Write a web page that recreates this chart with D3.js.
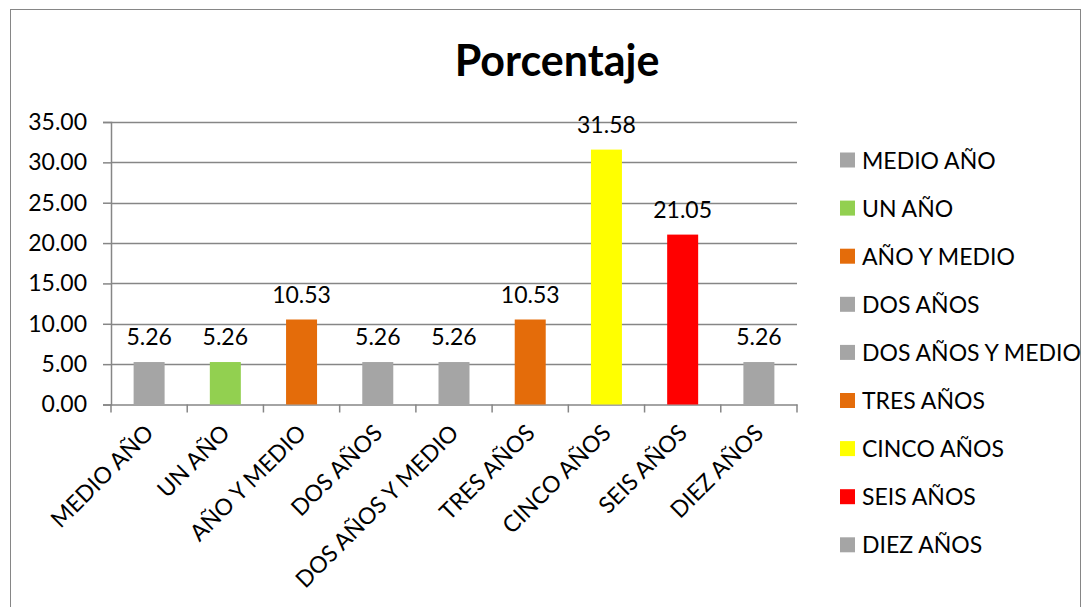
<!DOCTYPE html>
<html>
<head>
<meta charset="utf-8">
<script src="https://cdn.jsdelivr.net/npm/d3@7"></script>
<style>
  html, body { margin: 0; padding: 0; background: #fff; }
  svg { display: block; }
  text { font-family: Lato, "Open Sans", "Liberation Sans", sans-serif; fill: #000; }
</style>
</head>
<body>
<svg id="chart" width="1091" height="607"></svg>
<script>
// Duración y porcentaje por categoría
const categories = ["MEDIO AÑO", "UN AÑO", "AÑO Y MEDIO", "DOS AÑOS", "DOS AÑOS Y MEDIO", "TRES AÑOS", "CINCO AÑOS", "SEIS AÑOS", "DIEZ AÑOS"];
const values = [5.26, 5.26, 10.53, 5.26, 5.26, 10.53, 31.58, 21.05, 5.26];
const colors = ["#A5A5A5", "#92D050", "#E46C0A", "#A5A5A5", "#A5A5A5", "#E46C0A", "#FFFF00", "#FF0000", "#A5A5A5"];
const yTicks = [0, 5, 10, 15, 20, 25, 30, 35];
const title = "Porcentaje";

const FONT = "23px";
const svg = d3.select("#chart");

// outer chart frame
svg.append("rect")
  .attr("x", 10.5).attr("y", 9.5)
  .attr("width", 1070).attr("height", 620)
  .attr("fill", "#fff").attr("stroke", "#868686").attr("stroke-width", 1);

const plot = { left: 111, right: 797, top: 122, bottom: 404.5 };

const x = d3.scaleBand().domain(categories).range([plot.left, plot.right]).paddingInner(0).paddingOuter(0);
const y = d3.scaleLinear().domain([0, 35]).range([plot.bottom, plot.top]);

// title
svg.append("text")
  .attr("x", 557).attr("y", 76)
  .attr("text-anchor", "middle")
  .style("font-size", "43px").style("font-weight", "bold")
  .text(title);

// horizontal gridlines
svg.append("g")
  .selectAll("line")
  .data(yTicks.filter(t => t > 0))
  .join("line")
  .attr("x1", plot.left).attr("x2", plot.right)
  .attr("y1", d => Math.round(y(d)) + 0.5).attr("y2", d => Math.round(y(d)) + 0.5)
  .attr("stroke", "#868686").attr("stroke-width", 1.5);

// y axis
const yAxis = svg.append("g")
  .attr("transform", `translate(${plot.left},0)`)
  .call(d3.axisLeft(y).tickValues(yTicks).tickFormat(d3.format(".2f")).tickSize(8).tickPadding(16));
yAxis.select(".domain").attr("stroke", "#868686").attr("stroke-width", 1.5);
yAxis.selectAll(".tick line").attr("stroke", "#868686").attr("stroke-width", 1.5);
yAxis.selectAll(".tick text")
  .style("font-size", FONT).style("font-family", "Lato, 'Open Sans', sans-serif")
  .attr("fill", "#000");

// x axis
const xAxis = svg.append("g")
  .attr("transform", `translate(0,${plot.bottom})`)
  .call(d3.axisBottom(x).tickSize(0).tickFormat(""));
xAxis.select(".domain").attr("stroke", "#868686").attr("stroke-width", 1.5);

// category boundary tick marks
svg.append("g")
  .selectAll("line")
  .data(d3.range(categories.length + 1))
  .join("line")
  .attr("x1", i => plot.left + i * x.step()).attr("x2", i => plot.left + i * x.step())
  .attr("y1", plot.bottom).attr("y2", plot.bottom + 8)
  .attr("stroke", "#868686").attr("stroke-width", 1.5);

// bars
const barW = 31;
svg.append("g")
  .selectAll("rect")
  .data(values)
  .join("rect")
  .attr("x", (d, i) => x(categories[i]) + x.bandwidth() / 2 - barW / 2)
  .attr("y", d => y(d))
  .attr("width", barW)
  .attr("height", d => y(0) - y(d))
  .attr("fill", (d, i) => colors[i]);

// value labels
svg.append("g")
  .selectAll("text")
  .data(values)
  .join("text")
  .attr("x", (d, i) => x(categories[i]) + x.bandwidth() / 2)
  .attr("y", d => y(d) - 17)
  .attr("text-anchor", "middle")
  .style("font-size", FONT)
  .text(d => d3.format(".2f")(d));

// rotated category labels
svg.append("g")
  .selectAll("text")
  .data(categories)
  .join("text")
  .attr("transform", d => `translate(${x(d) + x.bandwidth() / 2 + 6},${plot.bottom + 30}) rotate(-45)`)
  .attr("text-anchor", "end")
  .style("font-size", FONT)
  .text(d => d);

// legend
const legend = svg.append("g")
  .selectAll("g")
  .data(categories)
  .join("g")
  .attr("transform", (d, i) => `translate(840,${160 + i * 48.1})`);
legend.append("rect")
  .attr("x", 0).attr("y", -7.5)
  .attr("width", 15).attr("height", 15)
  .attr("fill", (d, i) => colors[i]);
legend.append("text")
  .attr("x", 22).attr("y", 8.5)
  .style("font-size", FONT)
  .text(d => d);
</script>
</body>
</html>
